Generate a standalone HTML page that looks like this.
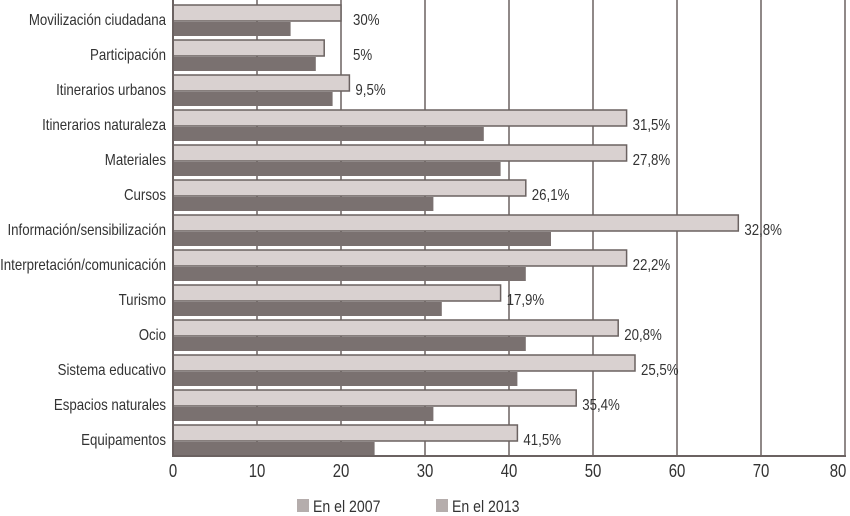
<!DOCTYPE html>
<html><head><meta charset="utf-8"><style>
body{margin:0;background:#fff;}
svg{display:block;font-family:"Liberation Sans",sans-serif;}
</style></head><body>
<svg id="chart" width="850" height="516" viewBox="0 0 850 516"></svg>
<script>
const categories=["Movilización ciudadana","Participación","Itinerarios urbanos","Itinerarios naturaleza","Materiales","Cursos","Información/sensibilización","Interpretación/comunicación","Turismo","Ocio","Sistema educativo","Espacios naturales","Equipamentos"];
const values2013=[20,18,21,54,54,42,67.3,54,39,53,55,48,41];
const values2007=[14,17,19,37,39,31,45,42,32,42,41,31,24];
const pctLabels=["30%","5%","9,5%","31,5%","27,8%","26,1%","32,8%","22,2%","17,9%","20,8%","25,5%","35,4%","41,5%"];
const ticks=[0,10,20,30,40,50,60,70,80];
const svg=document.getElementById('chart');
const NS='http://www.w3.org/2000/svg';
const x0=173,ppu=8.4,axisY=456,SX=0.83;
const xs=v=>x0+v*ppu;
const rowTop=i=>5+i*35;
function mk(t,a){const e=document.createElementNS(NS,t);for(const k in a)e.setAttribute(k,a[k]);svg.appendChild(e);return e;}
function txt(s,x,y,anchor,size){const e=mk('text',{x:x/SX,y:y,'text-anchor':anchor,'font-size':size,fill:'#333',transform:'scale('+SX+',1)'});e.textContent=s;return e;}
ticks.forEach(t=>{
  if(t>0){const g=mk('line',{x1:xs(t),x2:xs(t),y1:0,y2:axisY,stroke:'#6b6261','stroke-width':1.5});
  
  }
  const l=txt(t,Math.min(xs(t),838),477,'middle',18);
  
  
});
categories.forEach((c,i)=>{
  const top=rowTop(i);
  const b1=mk('rect',{x:x0,y:top,width:xs(values2013[i])-x0,height:16,fill:'#d9d1d0',stroke:'#6b6261','stroke-width':1.5});
  
  
  const b2=mk('rect',{x:x0,y:top+17,width:xs(values2007[i])-x0,height:14,fill:'#7a7170'});
  
  
  const cl=txt(c,166,top+20,'end',16);
  
  
  const vl=txt(pctLabels[i],Math.max(xs(values2013[i])+6,353),top+20,'start',16);
  
  
});
const ax=mk('line',{x1:x0,x2:x0,y1:0,y2:axisY,stroke:'#6b6261','stroke-width':2});


const bx=mk('line',{x1:x0-1,x2:846,y1:axisY,y2:axisY,stroke:'#6b6261','stroke-width':2});


[["En el 2007",297],["En el 2013",436]].forEach(([t,x])=>{
  const s=mk('rect',{x:x,y:499,width:12,height:13,fill:'#b5adac'});
  
  
  const l=txt(t,x+16,512,'start',17);
  
  
});
</script>
</body></html>
